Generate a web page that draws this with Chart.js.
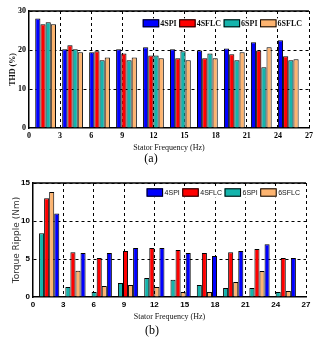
<!DOCTYPE html>
<html>
<head>
<meta charset="utf-8">
<script src="https://cdn.jsdelivr.net/npm/chart.js@4.4.1/dist/chart.umd.min.js"></script>
<style>
  body { margin: 0; background: #fff; }
  canvas { display: block; }
</style>
</head>
<body>
<canvas id="thdChart" width="327" height="170"></canvas>
<canvas id="rippleChart" width="327" height="170"></canvas>
<script>
// group positions along the frequency axis
const groupFreq = [1.6, 4.2, 6.8, 9.4, 12.0, 14.6, 17.2, 19.8, 22.4, 25.0];

// THD (%)
const thd4SPI = [28.1, 20.2, 19.4, 20.2, 20.7, 20.2, 19.9, 20.4, 22.0, 22.5];
const thd4SFLC = [26.6, 21.2, 19.7, 19.1, 18.6, 17.9, 17.9, 18.9, 19.9, 18.4];
const thd6SPI = [27.1, 20.2, 17.4, 17.4, 18.6, 19.7, 19.1, 17.4, 15.6, 17.4];
const thd6SFLC = [26.6, 19.4, 18.1, 18.1, 17.9, 17.4, 17.9, 19.4, 20.7, 17.6];

// Torque ripple (Nm)
const tr4SPI = [11.0, 5.8, 5.8, 6.45, 6.45, 5.8, 5.4, 6.05, 6.95, 5.13];
const tr4SFLC = [13.0, 5.9, 5.13, 6.05, 6.45, 6.18, 5.8, 5.9, 6.3, 5.13];
const tr6SPI = [8.4, 1.3, 0.66, 1.84, 2.5, 2.28, 1.58, 1.18, 1.18, 0.66];
const tr6SFLC = [13.8, 3.46, 1.45, 1.58, 1.3, 0.66, 0.66, 1.97, 3.42, 0.79];

const freqTicks = [0, 3, 6, 9, 12, 15, 18, 21, 24, 27];

const colors = {
    '4SPI': '#0000ff',
    '4SFLC': '#ff0000',
    '6SPI': '#14b4ac',
    '6SFLC': '#fdb470'
};

const toPoints = (vals) => groupFreq.map((f, i) => ({ x: f, y: vals[i] }));

const makeSet = (label, vals, order) => ({
    label: label,
    data: toPoints(vals),
    backgroundColor: colors[label],
    borderColor: '#000',
    borderWidth: 1,
    order: order,
    categoryPercentage: 0.77,
    barPercentage: 1
});

// legend boxes drawn inside the plot, top right
const boxLegend = {
    id: 'boxLegend',
    afterDatasetsDraw(chart, args, opts) {
        const { ctx, chartArea } = chart;
        const sets = chart.data.datasets;
        ctx.save();
        ctx.font = opts.font;
        let w = 0;
        sets.forEach(ds => {
            w += opts.boxWidth + opts.boxGap + ctx.measureText(ds.label).width + opts.itemGap;
        });
        w -= opts.itemGap;
        let x = chartArea.right - opts.right - w;
        const y = chartArea.top + opts.top;
        ctx.fillStyle = '#fff';
        ctx.fillRect(x - 1, y - 1, w + 2, opts.boxHeight + 2);
        sets.forEach(ds => {
            ctx.fillStyle = ds.backgroundColor;
            ctx.fillRect(x, y, opts.boxWidth, opts.boxHeight);
            ctx.strokeStyle = '#000';
            ctx.lineWidth = 1;
            ctx.strokeRect(x + 0.5, y + 0.5, opts.boxWidth - 1, opts.boxHeight - 1);
            x += opts.boxWidth + opts.boxGap;
            ctx.fillStyle = opts.color;
            ctx.textBaseline = 'middle';
            ctx.fillText(ds.label, x, y + opts.boxHeight / 2 + 0.5);
            x += ctx.measureText(ds.label).width + opts.itemGap;
        });
        ctx.restore();
    }
};

// top frame line and the (a)/(b) caption
const frame = {
    id: 'frame',
    afterDraw(chart, args, opts) {
        const { ctx, chartArea } = chart;
        ctx.save();
        ctx.strokeStyle = '#000';
        ctx.lineWidth = 1.5;
        ctx.beginPath();
        ctx.moveTo(chartArea.left, chartArea.top);
        ctx.lineTo(chartArea.right, chartArea.top);
        ctx.stroke();
        ctx.fillStyle = '#000';
        ctx.font = opts.font;
        ctx.textAlign = 'center';
        ctx.textBaseline = 'middle';
        ctx.fillText(opts.text, opts.x, opts.y);
        ctx.restore();
    }
};

const gridColor = (c) => (c.tick && c.tick.value === 0) ? 'rgba(0,0,0,0)' : '#000';

function makeConfig(sets, yMax, yStep, yTitle, cap, look) {
    return {
        type: 'bar',
        data: { datasets: sets },
        plugins: [boxLegend, frame],
        options: {
            responsive: false,
            animation: false,
            layout: { padding: look.padding },
            plugins: {
                legend: { display: false },
                tooltip: { enabled: false },
                boxLegend: look.legend,
                frame: cap
            },
            scales: {
                x: {
                    type: 'linear',
                    min: 0,
                    max: 27,
                    offset: false,
                    afterBuildTicks: (s) => { s.ticks = freqTicks.map(v => ({ value: v })); },
                    afterFit: (s) => { s.height = look.xHeight; },
                    grid: { offset: false, color: gridColor, lineWidth: 1, drawTicks: false },
                    border: { color: '#000', width: 1.5, dash: [3, 3] },
                    ticks: { color: '#000', font: look.tickFont, padding: 3, maxRotation: 0 },
                    title: {
                        display: true,
                        text: 'Stator Frequency (Hz)',
                        color: '#111',
                        font: { family: "'Liberation Serif', serif", size: 8 },
                        padding: { top: 0, bottom: look.xTitlePad }
                    }
                },
                y: {
                    min: 0,
                    max: yMax,
                    afterBuildTicks: (s) => {
                        const t = [];
                        for (let v = 0; v <= yMax; v += yStep) t.push({ value: v });
                        s.ticks = t;
                    },
                    afterFit: (s) => { s.width = look.yWidth; },
                    grid: { color: gridColor, lineWidth: 1, drawTicks: false },
                    border: { color: '#000', width: 1.5, dash: [3, 3] },
                    ticks: { color: '#000', font: look.tickFont, padding: look.yTickPad },
                    title: {
                        display: true,
                        text: yTitle,
                        color: look.yTitleColor,
                        font: look.yTitleFont,
                        padding: { top: look.yTitlePad, bottom: 0 }
                    }
                }
            }
        }
    };
}

const thdSets = [
    makeSet('4SPI', thd4SPI, 0),
    makeSet('4SFLC', thd4SFLC, 1),
    makeSet('6SPI', thd6SPI, 2),
    makeSet('6SFLC', thd6SFLC, 3)
];

const thdChart = new Chart(
    document.getElementById('thdChart'),
    makeConfig(thdSets, 30, 10, 'THD (%)',
        { text: '(a)', x: 151, y: 159, font: "12px 'Liberation Serif', serif" },
        {
            padding: { left: 0, right: 18, top: 11, bottom: 0 },
            xHeight: 42,
            yWidth: 29,
            yTickPad: 3,
            xTitlePad: 17,
            yTitlePad: 8,
            yTitleColor: '#111',
            yTitleFont: { family: "'Liberation Serif', serif", size: 8, weight: 'bold' },
            tickFont: { family: "'Liberation Serif', serif", size: 8, weight: 'bold' },
            legend: {
                font: "bold 8px 'Liberation Serif', serif",
                color: '#111',
                boxWidth: 16.5,
                boxHeight: 8,
                boxGap: 1,
                itemGap: 2.5,
                right: 7,
                top: 8.3
            }
        })
);

// bars in each group go 6SPI, 4SFLC, 6SFLC, 4SPI
const rippleSets = [
    makeSet('4SPI', tr4SPI, 3),
    makeSet('4SFLC', tr4SFLC, 1),
    makeSet('6SPI', tr6SPI, 0),
    makeSet('6SFLC', tr6SFLC, 2)
];

const rippleChart = new Chart(
    document.getElementById('rippleChart'),
    makeConfig(rippleSets, 15, 5, 'Torque Ripple (Nm)',
        { text: '(b)', x: 152, y: 161, font: "12px 'Liberation Serif', serif" },
        {
            padding: { left: 0, right: 21, top: 13, bottom: 0 },
            xHeight: 43,
            yWidth: 33,
            yTickPad: 3,
            xTitlePad: 18,
            yTitlePad: 11.5,
            yTitleColor: '#333',
            yTitleFont: { family: "'DejaVu Sans', sans-serif", size: 9 },
            tickFont: { family: "'Liberation Sans Narrow', 'Liberation Sans', sans-serif", size: 8, weight: 'bold' },
            legend: {
                font: "7px 'Liberation Sans', sans-serif",
                color: '#111',
                boxWidth: 16.5,
                boxHeight: 8.4,
                boxGap: 1.5,
                itemGap: 2.5,
                right: 6,
                top: 5.3
            }
        })
);
</script>
</body>
</html>
